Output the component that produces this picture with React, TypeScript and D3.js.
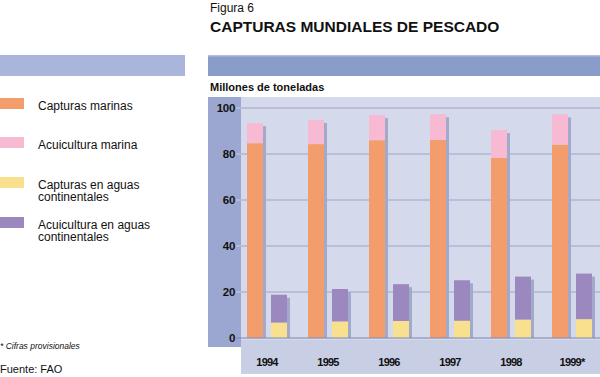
import React from "react";
import * as d3 from "d3";

const years = ["1994", "1995", "1996", "1997", "1998", "1999*"];
const capturasMarinas = [84.7, 84.3, 86.0, 86.1, 78.3, 84.1];
const acuiculturaMarina = [8.7, 10.5, 10.9, 11.2, 12.1, 13.1];
const capturasContinentales = [6.7, 7.2, 7.4, 7.5, 8.0, 8.2];
const acuiculturaContinentales = [12.1, 14.1, 16.0, 17.6, 18.7, 19.8];
const yTicks = [0, 20, 40, 60, 80, 100];

const legendItems = [
  { lines: ["Capturas marinas"], color: "#f39c6c" },
  { lines: ["Acuicultura marina"], color: "#f8b9d2" },
  { lines: ["Capturas en aguas", "continentales"], color: "#f9e08f" },
  { lines: ["Acuicultura en aguas", "continentales"], color: "#9b88bf" },
];

const FONT = "'Liberation Sans', Arial, sans-serif";

export default function App() {
  const W = 600, H = 377;
  const plotLeft = 241, plotRight = 600, plotTop = 97;
  const y = d3.scaleLinear().domain([0, 100]).range([338, 108]);
  const x = d3.scaleBand<string>().domain(years).range([241, 241 + 61 * 6]).paddingInner(0);
  const bw = 16;
  const offA = 6, offB = 30;
  const shadow = "#a2aacb";

  return (
    <svg width={W} height={H} style={{ position: "absolute", left: 0, top: 0 }} fontFamily={FONT}>
      <rect x={0} y={0} width={W} height={H} fill="#ffffff" />
      {/* title */}
      <text x={210} y={12} fontSize={12} fill="#111">Figura 6</text>
      <text x={210} y={32} fontSize={15.5} fontWeight="bold" fill="#111">CAPTURAS MUNDIALES DE PESCADO</text>
      {/* header bars */}
      <rect x={0} y={55} width={185} height={21} fill="#a9b5da" />
      <rect x={208} y={55} width={392} height={21} fill="#8a9cc9" />
      <rect x={208} y={55} width={392} height={1.5} fill="#b3c0e0" />
      <text x={210} y={91} fontSize={11} fontWeight="bold" fill="#111">Millones de toneladas</text>

      {/* plot background */}
      <rect x={plotLeft} y={plotTop} width={plotRight - plotLeft} height={343 - plotTop} fill="#d4d9eb" />
      <rect x={plotLeft} y={340} width={plotRight - plotLeft} height={34} fill="#c8cee4" />
      <rect x={208} y={plotTop} width={plotLeft - 208} height={347 - plotTop} fill="#9ba7d0" />

      {/* grid */}
      {yTicks.filter((t) => t > 0).map((t) => (
        <g key={t}>
          <line x1={plotLeft} x2={plotRight} y1={y(t)} y2={y(t)} stroke="#9ea5c3" strokeWidth={1} />
          <line x1={236} x2={plotLeft} y1={y(t)} y2={y(t)} stroke="#c9cfe6" strokeWidth={1} />
        </g>
      ))}
      {yTicks.map((t) => (
        <text key={"l" + t} x={235} y={y(t) + 4} fontSize={11.5} fontWeight="bold" textAnchor="end" fill="#111" letterSpacing={-0.3}>
          {t}
        </text>
      ))}

      {/* bars */}
      {years.map((yr, i) => {
        const gx = x(yr)!;
        const ax = gx + offA, bx = gx + offB;
        const aTop = y(capturasMarinas[i] + acuiculturaMarina[i]);
        const bTop = y(capturasContinentales[i] + acuiculturaContinentales[i]);
        return (
          <g key={yr}>
            <rect x={ax + bw} y={aTop + 3} width={3} height={y(0) - aTop - 3} fill={shadow} />
            <rect x={bx + bw} y={bTop + 3} width={3} height={y(0) - bTop - 3} fill={shadow} />
            <rect x={ax} y={y(capturasMarinas[i])} width={bw} height={y(0) - y(capturasMarinas[i])} fill="#f39c6c" />
            <rect x={ax} y={aTop} width={bw} height={y(capturasMarinas[i]) - aTop} fill="#f8b9d2" />
            <rect x={bx} y={y(capturasContinentales[i])} width={bw} height={y(0) - y(capturasContinentales[i])} fill="#f9e08f" />
            <rect x={bx} y={bTop} width={bw} height={y(capturasContinentales[i]) - bTop} fill="#9b88bf" />
            <text x={gx + 26} y={366} fontSize={11} fontWeight="bold" textAnchor="middle" fill="#111" letterSpacing={-0.8}>
              {yr}
            </text>
          </g>
        );
      })}
      <line x1={236} x2={plotRight} y1={y(0)} y2={y(0)} stroke="#7d87b2" strokeWidth={1.2} />

      {/* legend */}
      {legendItems.map((it, i) => {
        const top = [98, 137, 177, 217][i];
        return (
          <g key={i}>
            <rect x={0} y={top} width={24} height={11} fill={it.color} />
            {it.lines.map((ln, j) => (
              <text key={j} x={38} y={top + 11.5 + j * 12.5} fontSize={12} fill="#111">{ln}</text>
            ))}
          </g>
        );
      })}

      <text x={0} y={349} fontSize={8.5} fontStyle="italic" fill="#111">* Cifras provisionales</text>
      <text x={0} y={373} fontSize={11} fill="#111">Fuente: FAO</text>
    </svg>
  );
}
